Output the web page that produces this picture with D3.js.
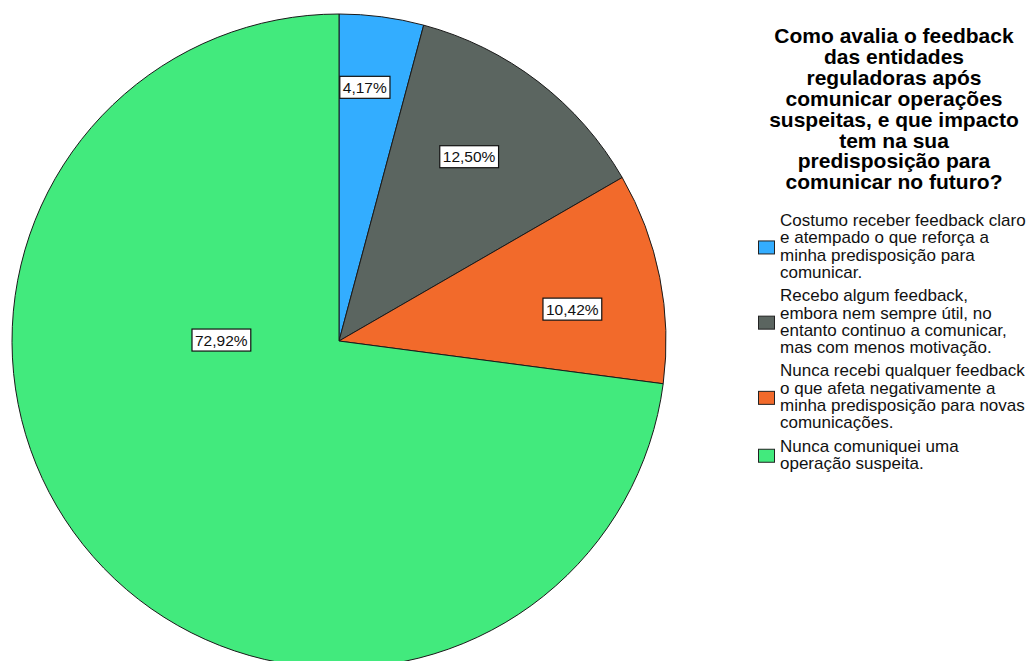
<!DOCTYPE html>
<html>
<head>
<meta charset="utf-8">
<script src="https://cdn.jsdelivr.net/npm/d3@7"></script>
<style>
  body { margin: 0; background: #fff; }
  svg { display: block; }
  text { font-family: "Liberation Sans", Arial, sans-serif; }
</style>
</head>
<body>
<svg width="1031" height="661"></svg>
<script>
// data
const categories = [
  "Costumo receber feedback claro e atempado o que reforça a minha predisposição para comunicar.",
  "Recebo algum feedback, embora nem sempre útil, no entanto continuo a comunicar, mas com menos motivação.",
  "Nunca recebi qualquer feedback o que afeta negativamente a minha predisposição para novas comunicações.",
  "Nunca comuniquei uma operação suspeita."
];
const percents = [4.17, 12.50, 10.42, 72.92];
const percentLabels = ["4,17%", "12,50%", "10,42%", "72,92%"];
const legendLines = [
  ["Costumo receber feedback claro", "e atempado o que reforça a", "minha predisposição para", "comunicar."],
  ["Recebo algum feedback,", "embora nem sempre útil, no", "entanto continuo a comunicar,", "mas com menos motivação."],
  ["Nunca recebi qualquer feedback", "o que afeta negativamente a", "minha predisposição para novas", "comunicações."],
  ["Nunca comuniquei uma", "operação suspeita."]
];
const titleLines = [
  "Como avalia o feedback", "das entidades", "reguladoras após",
  "comunicar operações", "suspeitas, e que impacto", "tem na sua",
  "predisposição para", "comunicar no futuro?"
];
const colors = ["#33adff", "#5b6560", "#f26a2b", "#42ea7d"];
// where SPSS drops each value label: angle (deg, clockwise from 12 o'clock) and share of radius
const labelAngle = [5.8, 35.2, 82.2, 270.5];
const labelRadius = [0.78, 0.69, 0.72, 0.36];

const svg = d3.select("svg");
const cx = 339, cy = 341, r = 327;

const pie = d3.pie().sort(null).value(d => d);
const arc = d3.arc().innerRadius(0).outerRadius(r);
const arcs = pie(percents);

const g = svg.append("g").attr("transform", `translate(${cx},${cy})`);

g.selectAll("path.slice")
  .data(arcs)
  .enter().append("path")
  .attr("class", "slice")
  .attr("d", arc)
  .attr("fill", (d, i) => colors[i])
  .attr("stroke", "#1a1a1a")
  .attr("stroke-width", 1);

// value labels
const lab = g.selectAll("g.lab")
  .data(arcs)
  .enter().append("g")
  .attr("class", "lab")
  .attr("transform", (d, i) => {
    const a = labelAngle[i] * Math.PI / 180;
    const rr = labelRadius[i] * r;
    return `translate(${rr * Math.sin(a)},${-rr * Math.cos(a)})`;
  });

lab.append("text")
  .attr("text-anchor", "middle")
  .attr("dy", "0.36em")
  .attr("font-size", 15.5)
  .attr("fill", "#111")
  .text((d, i) => percentLabels[i]);

lab.each(function () {
  const grp = d3.select(this);
  const bb = grp.select("text").node().getBBox();
  grp.insert("rect", "text")
    .attr("x", bb.x - 3)
    .attr("y", bb.y - 2.5)
    .attr("width", bb.width + 6)
    .attr("height", bb.height + 5)
    .attr("fill", "#fff")
    .attr("stroke", "#111")
    .attr("stroke-width", 1.2);
});

// title
svg.append("text")
  .attr("text-anchor", "middle")
  .attr("font-size", 21)
  .attr("font-weight", "bold")
  .attr("fill", "#000")
  .selectAll("tspan")
  .data(titleLines)
  .enter().append("tspan")
  .attr("x", 894)
  .attr("y", (d, i) => 43 + i * 20.9)
  .text(d => d);

// legend
const lineH = 17.3;
let y0 = 226;
legendLines.forEach((lines, i) => {
  const item = svg.append("g");
  item.append("text")
    .attr("font-size", 17)
    .attr("fill", "#111")
    .selectAll("tspan")
    .data(lines)
    .enter().append("tspan")
    .attr("x", 780)
    .attr("y", (d, j) => y0 + j * lineH)
    .text(d => d);
  const mid = y0 - 5 + (lines.length - 1) * lineH / 2;
  item.append("rect")
    .attr("x", 758.5)
    .attr("y", mid - 6)
    .attr("width", 16)
    .attr("height", 13)
    .attr("fill", colors[i])
    .attr("stroke", "#222")
    .attr("stroke-width", 1);
  y0 += lines.length * lineH + 6;
});
</script>
</body>
</html>
